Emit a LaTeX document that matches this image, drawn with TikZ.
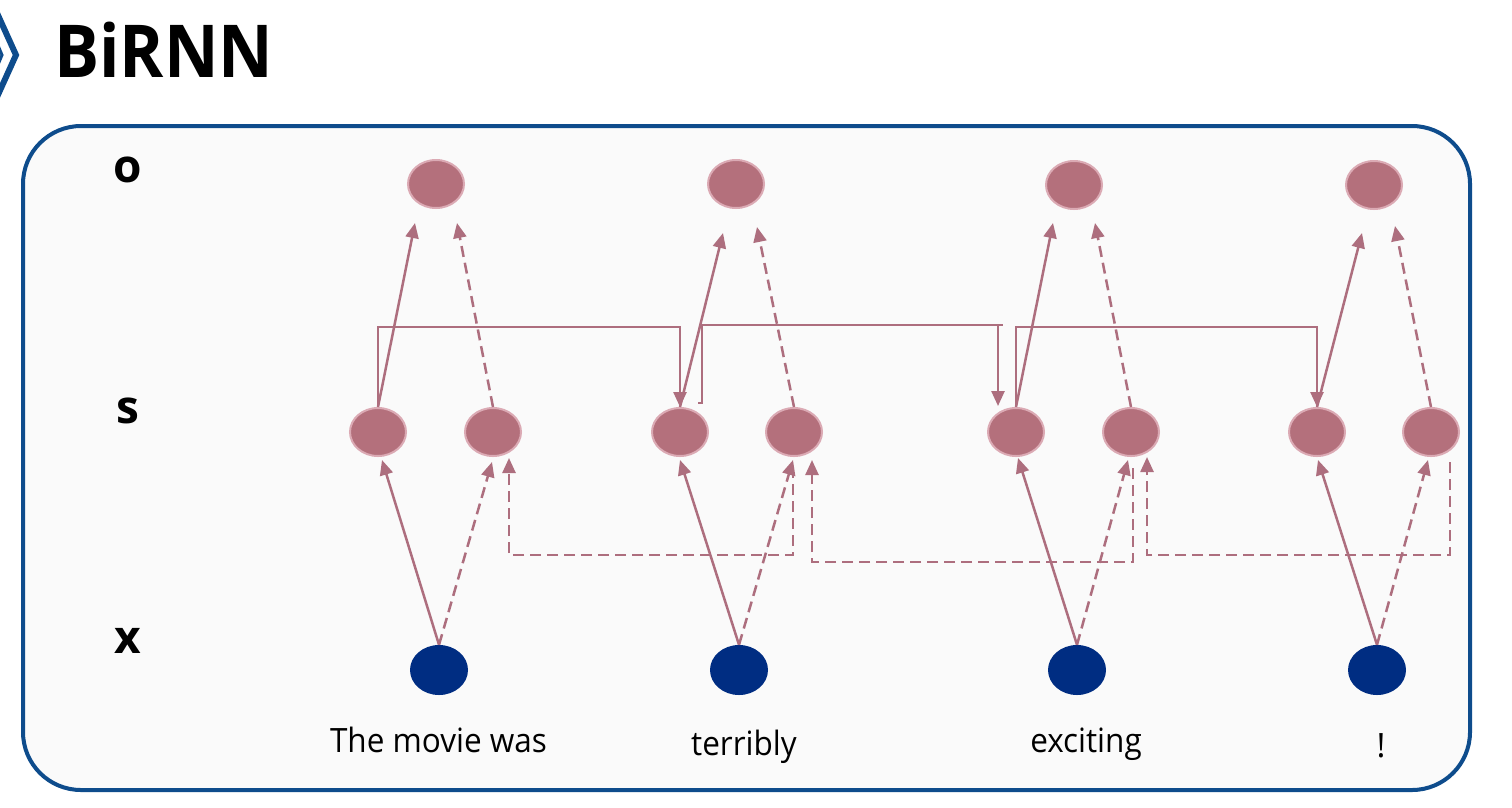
\documentclass[tikz,border=0pt]{standalone}
\usepackage{fontspec}
\setmainfont{Open Sans}
\usetikzlibrary{arrows.meta,calc,shapes.geometric}
\definecolor{frameblue}{HTML}{0E4C8C}
\definecolor{rose}{HTML}{B4707C}
\definecolor{roseline}{HTML}{AD6E7E}
\definecolor{roseedge}{HTML}{DBAAB4}
\definecolor{xblue}{HTML}{002D82}
\definecolor{panel}{HTML}{FAFAFA}
\begin{document}
\begin{tikzpicture}[x=1pt,y=-1pt,
  hnode/.style={ellipse, fill=rose, draw=roseedge, line width=2pt, minimum width=56pt, minimum height=48pt, inner sep=0pt},
  xnode/.style={ellipse, fill=xblue, minimum width=58pt, minimum height=50pt, inner sep=0pt},
  conn/.style={draw=roseline, line width=2.5pt, -{Triangle[length=15pt,width=13pt]}},
  dconn/.style={conn, dash pattern=on 11pt off 6pt},
  plainline/.style={draw=roseline, line width=2.5pt},
  rowlbl/.style={anchor=base, inner sep=0pt, font=\fontsize{46}{50}\selectfont\bfseries},
  wordlbl/.style={anchor=base, inner sep=0pt, font=\fontsize{33.5}{38}\selectfont}]
\useasboundingbox (0,0) rectangle (1512,807);
\fill[white] (0,0) rectangle (1512,807);
% chevron and title
\draw[frameblue, line width=6pt, line join=miter] (-3,13) -- (16,55) -- (-3,97);
\draw[frameblue, line width=3pt] (-3,43) -- (2,55) -- (-3,67);
\node[anchor=base west, inner sep=0pt, font=\fontsize{73}{80}\selectfont\bfseries] (title) at (54,77) {\scalebox{0.92}[1]{BiRNN}};
% panel
\draw[frameblue, line width=4pt, fill=panel, rounded corners=58pt] (23,126) rectangle (1470,790);
% row labels
\node[rowlbl] (lo) at (128,182) {o};
\node[rowlbl] (ls) at (128,423) {s};
\node[rowlbl] (lx) at (128,653) {x};
% output nodes
\node[hnode] (o1) at (436,184) {};
\node[hnode] (o2) at (736,184) {};
\node[hnode] (o3) at (1074,185) {};
\node[hnode] (o4) at (1374,185) {};
% hidden nodes
\node[hnode] (s1) at (378,432) {};
\node[hnode] (s2) at (493,432) {};
\node[hnode] (s3) at (680,432) {};
\node[hnode] (s4) at (794,432) {};
\node[hnode] (s5) at (1016,432) {};
\node[hnode] (s6) at (1131,432) {};
\node[hnode] (s7) at (1317,432) {};
\node[hnode] (s8) at (1431,432) {};
% input nodes
\node[xnode] (x1) at (439,670) {};
\node[xnode] (x2) at (739,670) {};
\node[xnode] (x3) at (1077,670) {};
\node[xnode] (x4) at (1377,670) {};
% words
\node[wordlbl] (w1) at (438.5,752) {\scalebox{0.94}[1]{The movie was}};
\node[wordlbl] (w2) at (744,755) {\scalebox{0.94}[1]{terribly}};
\node[wordlbl] (w3) at (1086,752) {\scalebox{0.94}[1]{exciting}};
\node[wordlbl] (w4) at (1381,757) {!};
% x -> s
\draw[conn] (x1.north) -- ($(s1)+(4,28)$);
\draw[dconn] (x1.north) -- ($(s2)+(-1,30)$);
\draw[conn] (x2.north) -- ($(s3)+(0,28)$);
\draw[dconn] (x2.north) -- ($(s4)+(-1,28)$);
\draw[conn] (x3.north) -- ($(s5)+(2,26)$);
\draw[dconn] (x3.north) -- ($(s6)+(-3,28)$);
\draw[conn] (x4.north) -- ($(s7)+(1,28)$);
\draw[dconn] (x4.north) -- ($(s8)+(-3,28)$);
% s -> o
\draw[conn] (s1.north) -- ($(o1)+(-21,39)$);
\draw[dconn] (s2.north) -- ($(o1)+(21,39)$);
\draw[conn] (s3.north) -- ($(o2)+(-13,49)$);
\draw[dconn] (s4.north) -- ($(o2)+(21,43)$);
\draw[conn] (s5.north) -- ($(o3)+(-21,38)$);
\draw[dconn] (s6.north) -- ($(o3)+(21,38)$);
\draw[conn] (s7.north) -- ($(o4)+(-12,48)$);
\draw[dconn] (s8.north) -- ($(o4)+(21,41)$);
% forward recurrence
\draw[conn] (s1.north) |- (s3.north |- 0,327) -- (s3.north);
\draw[plainline] ($(s3.north)+(18,-4)$) -- ($(s3.north)+(22,-4)$) |- ($(s5.north)+(-13,-82)$);
\draw[conn] ($(s5.north)+(-18,-82)$) -- ($(s5.north)+(-18,-1)$);
\draw[conn] (s5.north) |- (s7.north |- 0,327) -- (s7.north);
% backward recurrence
\draw[dconn] ($(s4)+(-1,35)$) |- ($(s2)+(16,123)$) -- ($(s2)+(16,26)$);
\draw[dconn] ($(s6)+(2,36)$) |- ($(s4)+(18,130)$) -- ($(s4)+(18,28)$);
\draw[dconn] ($(s8)+(19,30)$) |- ($(s6)+(16,123)$) -- ($(s6)+(16,25)$);
\end{tikzpicture}
\end{document}
